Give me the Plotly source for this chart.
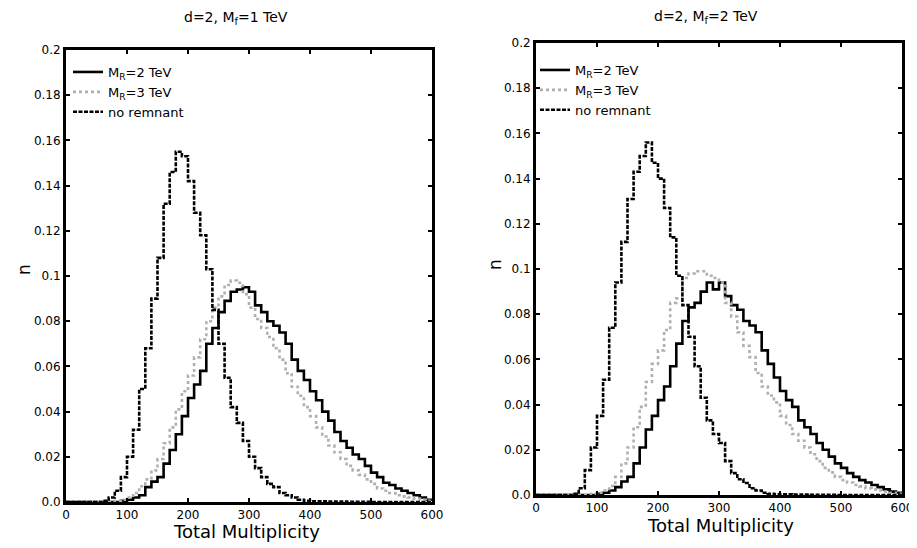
import plotly.graph_objects as go

# ---------------- data (bin starts, width 10) ----------------
bin_starts = list(range(0, 600, 10))
bin_end = 600

left_no_remnant = [0, 0, 0, 0, 0, 0,
    0.0005, 0.002, 0.005, 0.011, 0.020, 0.032, 0.050, 0.068, 0.090, 0.108,
    0.132, 0.146, 0.155, 0.153, 0.142, 0.128, 0.118, 0.103, 0.085, 0.070,
    0.055, 0.042, 0.035, 0.027, 0.020, 0.015, 0.011, 0.008, 0.0066, 0.004,
    0.003, 0.002, 0.001, 0.0005,
    0.0003, 0.0003, 0.0003, 0.0002, 0.0002, 0.0002, 0.0001, 0.0001, 0.0001, 0.0001,
    0, 0, 0, 0, 0, 0, 0, 0, 0, 0]

left_mr2 = [0, 0, 0, 0, 0, 0, 0, 0, 0, 0.0005,
    0.001, 0.002, 0.003, 0.0066, 0.009, 0.011, 0.017, 0.023, 0.030, 0.038,
    0.046, 0.052, 0.058, 0.070, 0.077, 0.084, 0.089, 0.093, 0.094, 0.095,
    0.093, 0.087, 0.084, 0.080, 0.078, 0.075, 0.070, 0.063, 0.058, 0.054,
    0.049, 0.045, 0.040, 0.036, 0.031, 0.027, 0.024, 0.021, 0.019, 0.016,
    0.013, 0.011, 0.0085, 0.0075, 0.006, 0.005, 0.004, 0.003, 0.002, 0.001]

left_mr3 = [0, 0, 0, 0, 0, 0, 0, 0, 0.0005, 0.001,
    0.002, 0.004, 0.007, 0.010, 0.014, 0.019, 0.026, 0.033, 0.041, 0.049,
    0.056, 0.064, 0.072, 0.080, 0.086, 0.091, 0.096, 0.098, 0.097, 0.092,
    0.086, 0.081, 0.077, 0.073, 0.068, 0.063, 0.057, 0.051, 0.047, 0.042,
    0.038, 0.033, 0.029, 0.025, 0.022, 0.019, 0.016, 0.014, 0.012, 0.010,
    0.008, 0.006, 0.005, 0.004, 0.003, 0.0025, 0.002, 0.0015, 0.001, 0.0005]

right_no_remnant = [0, 0, 0, 0, 0, 0,
    0.0005, 0.003, 0.011, 0.021, 0.035, 0.051, 0.074, 0.094, 0.112, 0.131,
    0.143, 0.150, 0.156, 0.147, 0.140, 0.127, 0.114, 0.097, 0.084, 0.070,
    0.057, 0.043, 0.033, 0.027, 0.023, 0.015, 0.0097, 0.007, 0.0053, 0.003,
    0.002, 0.001, 0.0005, 0.0003,
    0.0003, 0.0003, 0.0002, 0.0002, 0.0002, 0.0001, 0.0001, 0.0001, 0.0001, 0,
    0, 0, 0, 0, 0, 0, 0, 0, 0, 0]

right_mr2 = [0, 0, 0, 0, 0, 0, 0, 0, 0, 0,
    0.0005, 0.001, 0.002, 0.0035, 0.006, 0.008, 0.014, 0.021, 0.029, 0.035,
    0.042, 0.048, 0.057, 0.067, 0.077, 0.083, 0.085, 0.090, 0.094, 0.091,
    0.094, 0.088, 0.084, 0.082, 0.077, 0.075, 0.072, 0.064, 0.058, 0.052,
    0.046, 0.042, 0.039, 0.033, 0.030, 0.027, 0.023, 0.020, 0.017, 0.014,
    0.012, 0.0097, 0.008, 0.0066, 0.0055, 0.0044, 0.0035, 0.0025, 0.0015, 0.001]

right_mr3 = [0, 0, 0, 0, 0, 0, 0, 0, 0, 0.0005,
    0.001, 0.002, 0.004, 0.008, 0.014, 0.021, 0.030, 0.039, 0.050, 0.058,
    0.064, 0.073, 0.085, 0.087, 0.096, 0.098, 0.099, 0.099, 0.097, 0.096,
    0.094, 0.085, 0.079, 0.072, 0.066, 0.061, 0.054, 0.048, 0.044, 0.041,
    0.035, 0.031, 0.027, 0.024, 0.021, 0.018, 0.015, 0.012, 0.010, 0.008,
    0.0066, 0.0055, 0.0044, 0.0038, 0.003, 0.0025, 0.002, 0.0015, 0.001, 0.0005]

x_ticks = [0, 100, 200, 300, 400, 500, 600]
x_tick_labels = ["0", "100", "200", "300", "400", "500", "600"]
y_ticks = [0.0, 0.02, 0.04, 0.06, 0.08, 0.1, 0.12, 0.14, 0.16, 0.18, 0.2]
y_tick_labels = ["0.0", "0.02", "0.04", "0.06", "0.08", "0.1", "0.12", "0.14", "0.16", "0.18", "0.2"]

titles = ["d=2, M<sub>f</sub>=1 TeV", "d=2, M<sub>f</sub>=2 TeV"]
series_names = ["M<sub>R</sub>=2 TeV", "M<sub>R</sub>=3 TeV", "no remnant"]
x_title = "Total Multiplicity"
y_title = "n"

# ---------------- figure ----------------
# the page body has an 8px margin, so the figure starts 8px in from the window edge
OFF = 8
W, H = 917, 548
FONT = "DejaVu Sans"

def px_x(p):
    return (p - OFF) / W

def px_y(p):
    return 1 - (p - OFF) / H

fig = go.Figure()

panels = [
    dict(data=[left_mr2, left_mr3, left_no_remnant], xa="x", ya="y", legend="legend",
         xdom=[px_x(66), px_x(432)], ydom=[px_y(502), px_y(50)]),
    dict(data=[right_mr2, right_mr3, right_no_remnant], xa="x2", ya="y2", legend="legend2",
         xdom=[px_x(536), px_x(902)], ydom=[px_y(495), px_y(43)]),
]

styles = [
    dict(color="black", width=2.6, dash="solid"),
    dict(color="#b0b0b0", width=2.6, dash="dot"),
    dict(color="black", width=2.6, dash="4px,1.5px"),
]

xs = bin_starts + [bin_end]
for p in panels:
    for vals, name, st in zip(p["data"], series_names, styles):
        ys = list(vals) + [vals[-1]]
        fig.add_trace(go.Scatter(
            x=xs, y=ys, mode="lines", line_shape="hv", name=name,
            line=st, xaxis=p["xa"], yaxis=p["ya"], legend=p["legend"],
        ))

axis_common = dict(
    showgrid=False, zeroline=False, showline=True, linecolor="black", linewidth=3,
    mirror="ticks", ticks="inside", ticklen=4, tickwidth=1.5, tickcolor="black",
    tickfont=dict(family=FONT, size=12, color="black"), automargin=False,
)

layout = dict(
    width=W, height=H, margin=dict(l=0, r=0, t=0, b=0, autoexpand=False),
    paper_bgcolor="white", plot_bgcolor="white", showlegend=True,
)
for i, p in enumerate(panels):
    sfx = "" if i == 0 else "2"
    layout["xaxis" + sfx] = dict(axis_common, domain=p["xdom"], range=[0, 600],
                                 tickvals=x_ticks, ticktext=x_tick_labels,
                                 anchor="y" + sfx)
    layout["yaxis" + sfx] = dict(axis_common, domain=p["ydom"], range=[0, 0.2],
                                 tickvals=y_ticks, ticktext=y_tick_labels,
                                 anchor="x" + sfx)

legend_common = dict(
    bgcolor="rgba(0,0,0,0)", borderwidth=0, xanchor="left", yanchor="top",
    font=dict(family=FONT, size=13, color="black"), tracegroupgap=0,
    itemwidth=30,
)
layout["legend"] = dict(legend_common, x=px_x(68), y=px_y(57))
layout["legend2"] = dict(legend_common, x=px_x(535), y=px_y(55))
fig.update_layout(**layout)

ann = []
ann.append(dict(text=titles[0], x=px_x(236), y=px_y(18), size=14))
ann.append(dict(text=titles[1], x=px_x(706), y=px_y(17), size=14))
ann.append(dict(text=x_title, x=px_x(247), y=px_y(531), size=18))
ann.append(dict(text=x_title, x=px_x(720), y=px_y(525), size=18))
ann.append(dict(text=y_title, x=px_x(24), y=px_y(270), size=17, rot=-90))
ann.append(dict(text=y_title, x=px_x(495), y=px_y(265), size=17, rot=-90))
for a in ann:
    fig.add_annotation(
        text=a["text"], x=a["x"], y=a["y"], xref="paper", yref="paper",
        showarrow=False, xanchor="center", yanchor="middle",
        textangle=a.get("rot", 0),
        font=dict(family=FONT, size=a.get("size", 12), color="black"),
    )

fig.write_html("out.html")
